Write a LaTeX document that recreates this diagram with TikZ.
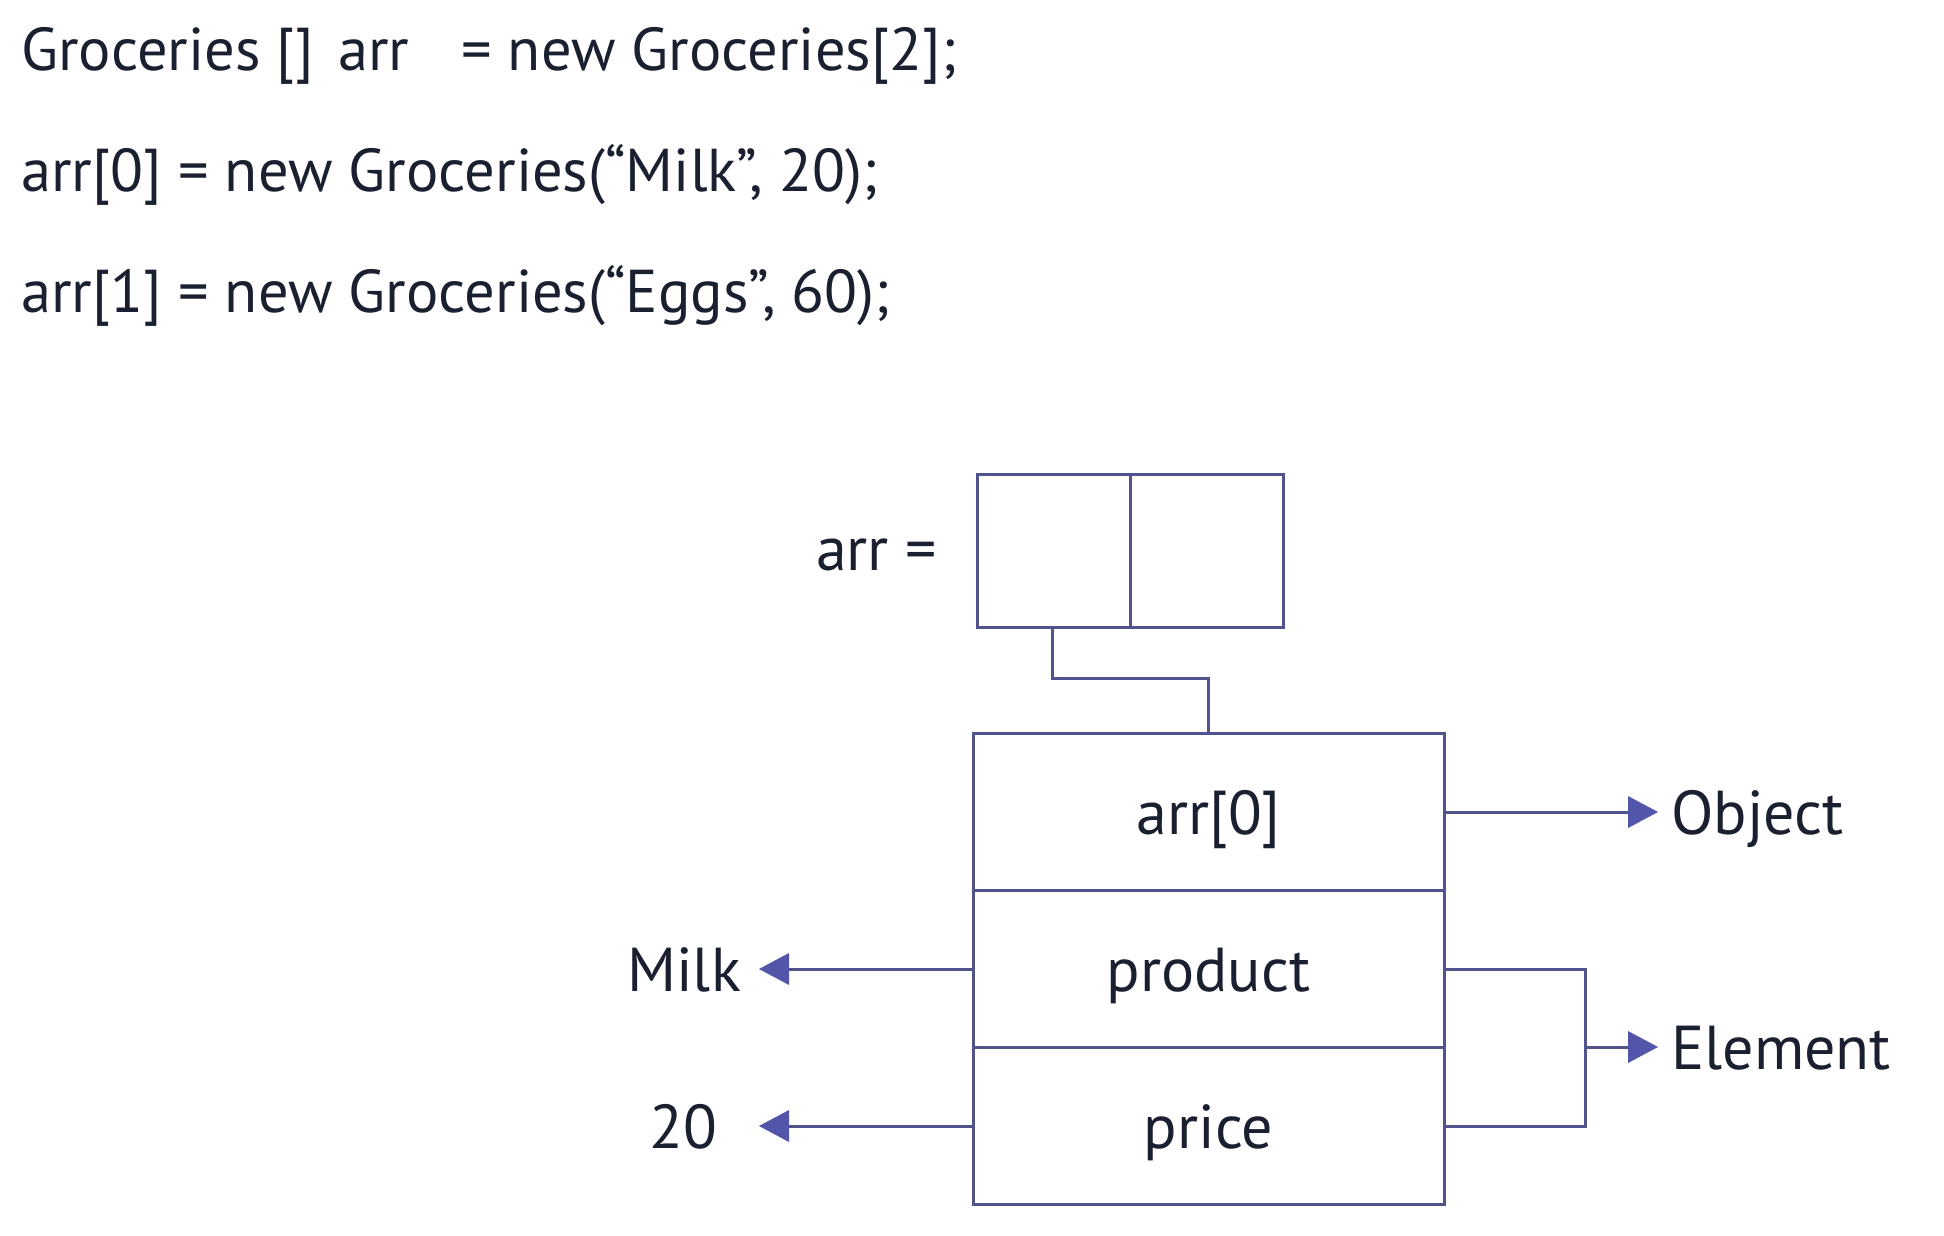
\documentclass[tikz,border=0pt]{standalone}
\usepackage{fontspec}
\setmainfont{PT Sans}
\usetikzlibrary{arrows.meta}
\definecolor{lncol}{RGB}{82,82,140}
\definecolor{tipcol}{RGB}{82,86,170}
\definecolor{txtcol}{RGB}{26,32,48}
\newcommand{\bigfont}{\fontsize{62}{74}\selectfont}
\newcommand{\codefont}{\fontsize{60.5}{72}\selectfont}
\tikzset{
  txt/.style={inner sep=0pt, text=txtcol, font=\bigfont},
  code/.style={inner sep=0pt, text=txtcol, font=\codefont, anchor=base west},
  ctxt/.style={txt, text height=44pt, text depth=0pt},
  cell/.style={draw=lncol, line width=3pt, inner sep=0pt, text=txtcol,
    font=\bigfont, text height=44pt, text depth=0pt},
  conn/.style={draw=lncol, line width=3pt},
  arr/.style={conn, -{Triangle[length=30pt,width=32pt,fill=tipcol,line width=0pt]}}
}
\begin{document}
\begin{tikzpicture}[x=1pt,y=-1pt]
\useasboundingbox (0,0) rectangle (1944,1236);
\fill[white] (0,0) rectangle (1944,1236);
% code lines
\node[code] (l1a) at (21,71) {Groceries []};
\node[code] (l1b) at (338,71) {arr};
\node[code] (l1c) at (461,71) {= new Groceries[2];};
\node[code] (l2) at (21,191) {arr[0] = new Groceries(“Milk”, 20);};
\node[code] (l3) at (21,312) {arr[1] = new Groceries(“Eggs”, 60);};
% array
\node[cell, minimum width=153pt, minimum height=153pt] (a0) at (1053.5,550.5) {};
\node[cell, minimum width=153pt, minimum height=153pt] (a1) at (1206.5,550.5) {};
\node[ctxt, anchor=east] (arrlbl) at (937,548) {arr =};
% object box
\node[cell, minimum width=471pt, minimum height=157pt] (r0) at (1208.5,812) {arr[0]};
\node[cell, minimum width=471pt, minimum height=157pt] (r1) at (1208.5,969) {product};
\node[cell, minimum width=471pt, minimum height=157pt] (r2) at (1208.5,1126) {price};
% connector array -> object
\coordinate (c1) at (1052,678);
\draw[conn] (1052,627) -- (c1) -| (r0.north);
% object arrow
\node[ctxt, anchor=west] (obj) at (1671,812) {Object};
\draw[arr] (r0.east) -- (1658,812);
% element bracket
\coordinate (bx) at (1585,1047);
\draw[conn] (r1.east) -| (bx) |- (r2.east);
\node[ctxt, anchor=west] (elem) at (1671,1047) {Element};
\draw[arr] (bx) -- (1658,1047);
% left arrows
\node[ctxt, anchor=center] (milk) at (684,969) {Milk};
\node[ctxt, anchor=center] (twenty) at (683,1126) {20};
\draw[arr] (r1.west) -- (759,969);
\draw[arr] (r2.west) -- (759,1126);
\end{tikzpicture}
\end{document}
